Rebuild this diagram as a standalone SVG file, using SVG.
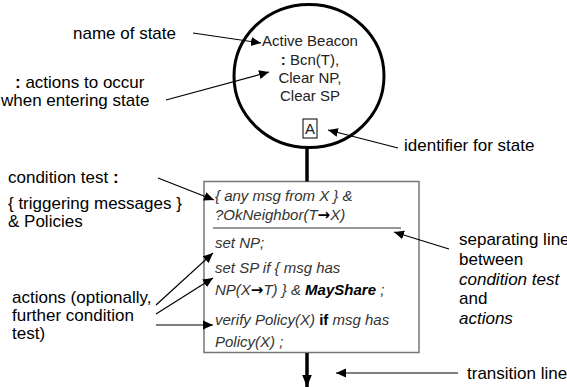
<svg xmlns="http://www.w3.org/2000/svg" width="567" height="387" viewBox="0 0 567 387">
<defs>
<marker id="ah" viewBox="0 0 10 10" refX="10" refY="5" markerWidth="10" markerHeight="10" markerUnits="userSpaceOnUse" orient="auto"><path d="M0,0.5 L10,5 L0,9.5 z" fill="#000"/></marker>
<marker id="ahb" viewBox="0 0 10 10" refX="10" refY="5" markerWidth="12" markerHeight="12" markerUnits="userSpaceOnUse" orient="auto"><path d="M0,1 L10,5 L0,9 z" fill="#000"/></marker>
</defs>
<style>
text{font-family:"Liberation Sans",Arial,sans-serif;}
.lbl{font-size:17px;fill:#000;}
.st{font-size:15px;fill:#222;text-anchor:middle;}
.bx{font-size:15px;fill:#333;font-style:italic;}
.arw{font-family:"DejaVu Sans",sans-serif;font-style:normal;font-weight:bold;font-size:15px;fill:#000;}
.ann{stroke:#000;stroke-width:1.2;fill:none;marker-end:url(#ah);}
.thick{stroke:#000;stroke-width:3.5;fill:none;}
</style>
<rect width="567" height="387" fill="#fff"/>
<g id="state-A">
<ellipse cx="309" cy="76" rx="75" ry="71.5" fill="none" stroke="#000" stroke-width="3"/>
<text class="st" x="310" y="46">Active Beacon</text>
<text class="st" x="310" y="65"><tspan font-weight="bold">:</tspan> Bcn(T),</text>
<text class="st" x="310" y="83">Clear NP,</text>
<text class="st" x="310" y="101">Clear SP</text>
<rect x="303" y="119" width="14" height="19" fill="none" stroke="#000" stroke-width="1"/>
<text class="st" x="310" y="134" fill="#000">A</text>
</g>
<g id="transition-box">
<rect x="204" y="181.5" width="215" height="171" fill="#fff" stroke="#777" stroke-width="1.5"/>
<line x1="213" y1="228" x2="401" y2="228" stroke="#333" stroke-width="1.2"/>
<text class="bx" x="215" y="201">{ any msg from X } &amp;</text>
<text class="bx" x="215" y="220">?OkNeighbor(T<tspan class="arw">→</tspan>X)</text>
<text class="bx" x="215" y="248">set NP;</text>
<text class="bx" x="215" y="273">set SP if { msg has</text>
<text class="bx" x="215" y="295">NP(X<tspan class="arw">→</tspan>T) } &amp; <tspan font-weight="bold" fill="#000">MayShare</tspan> ;</text>
<text class="bx" x="215" y="325">verify Policy(X) <tspan font-style="normal" font-weight="bold" fill="#000">if</tspan> msg has</text>
<text class="bx" x="215" y="347">Policy(X) ;</text>
</g>
<g id="labels">
<text class="lbl" x="73" y="39">name of state</text>
<text class="lbl" x="15" y="88"><tspan font-weight="bold">:</tspan> actions to occur</text>
<text class="lbl" x="1" y="106">when entering state</text>
<text class="lbl" x="404" y="151">identifier for state</text>
<text class="lbl" x="8" y="183">condition test <tspan font-weight="bold">:</tspan></text>
<text class="lbl" x="8" y="209">{ triggering messages }</text>
<text class="lbl" x="8" y="227">&amp; Policies</text>
<text class="lbl" x="12" y="303">actions (optionally,</text>
<text class="lbl" x="12" y="321">further condition</text>
<text class="lbl" x="12" y="339">test)</text>
<text class="lbl" x="459" y="245">separating line</text>
<text class="lbl" x="459" y="265">between</text>
<text class="lbl" x="459" y="285" font-style="italic">condition test</text>
<text class="lbl" x="459" y="304">and</text>
<text class="lbl" x="459" y="324" font-style="italic">actions</text>
<text class="lbl" x="467" y="379">transition line</text>
</g>
<g id="connectors">
<line class="thick" x1="307" y1="147" x2="307" y2="181.5"/>
<line x1="307" y1="353" x2="307" y2="387" stroke="#000" stroke-width="3.5" marker-end="url(#ahb)"/>
<line class="ann" x1="193" y1="33" x2="261" y2="43"/>
<line class="ann" x1="166" y1="100" x2="269" y2="72"/>
<line class="ann" x1="398" y1="148" x2="328" y2="130"/>
<line class="ann" x1="158" y1="178" x2="214" y2="200"/>
<line class="ann" x1="449" y1="249" x2="394" y2="232"/>
<line class="ann" x1="156" y1="305" x2="213" y2="253"/>
<line class="ann" x1="156" y1="314" x2="213" y2="278"/>
<line class="ann" x1="156" y1="325" x2="213" y2="325"/>
<line class="ann" x1="458" y1="373" x2="336" y2="373"/>
</g>
</svg>
